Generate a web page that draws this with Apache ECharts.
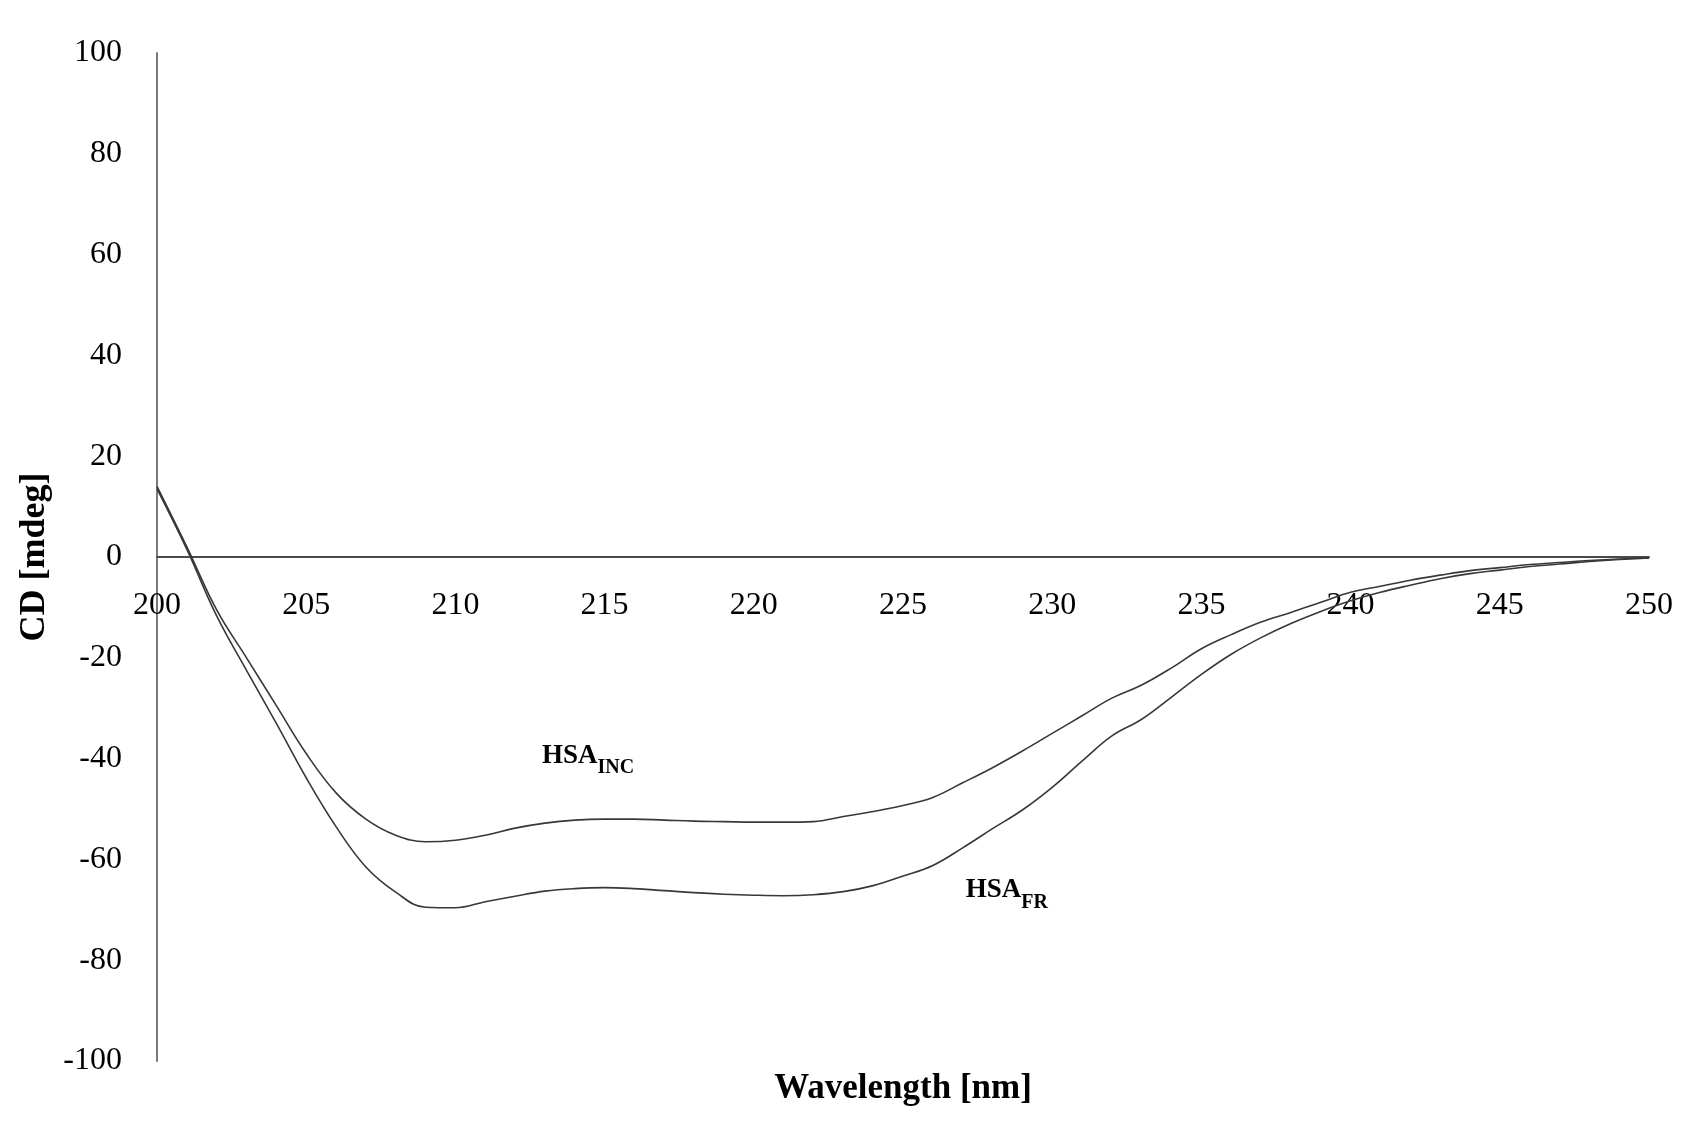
<!DOCTYPE html>
<html>
<head>
<meta charset="utf-8">
<script src="https://cdn.jsdelivr.net/npm/echarts@6/dist/echarts.min.js"></script>
<style>
  html, body { margin: 0; padding: 0; background: #fff; }
  #chart { width: 1708px; height: 1134px; }
</style>
</head>
<body>
<div id="chart"></div>
<script>
// wavelength in nm, one reading per nm
const wavelength = [
  200, 201, 202, 203, 204, 205, 206, 207, 208, 209,
  210, 211, 212, 213, 214, 215, 216, 217, 218, 219,
  220, 221, 222, 223, 224, 225, 226, 227, 228, 229,
  230, 231, 232, 233, 234, 235, 236, 237, 238, 239,
  240, 241, 242, 243, 244, 245, 246, 247, 248, 249, 250,
]
// CD [mdeg]
const hsaInc = [
  14, 2, -10.5, -20, -29.5, -39, -46.8, -52, -55.2, -56.5,
  -56.2, -55.2, -53.8, -52.8, -52.2, -52, -52, -52.2, -52.4, -52.5,
  -52.6, -52.6, -52.5, -51.5, -50.5, -49.3, -47.7, -44.8, -41.8, -38.5,
  -35, -31.5, -28, -25.4, -22, -18.2, -15.4, -12.9, -11, -9,
  -7, -5.8, -4.6, -3.6, -2.7, -2.1, -1.5, -1.1, -0.7, -0.4, -0.2,
]
const hsaFr = [
  13.5, 1.5, -11.7, -22.5, -33, -43.8, -53.5, -61.5, -66.5, -69.5,
  -69.6, -68.4, -67.3, -66.3, -65.8, -65.6, -65.8, -66.2, -66.6, -66.9,
  -67.1, -67.2, -67, -66.4, -65.2, -63.3, -61.2, -57.7, -53.9, -50.2,
  -45.7, -40.5, -35.5, -32.2, -27.8, -23.3, -19.3, -16, -13.2, -10.8,
  -8.7, -7, -5.6, -4.3, -3.3, -2.6, -1.9, -1.4, -0.9, -0.5, -0.2,
]
// where the curve names sit, [nm, mdeg]
const incLabelAt = [212.9, -40.3]
const frLabelAt = [227.1, -67]

const font = 'Liberation Serif'

const zip = (xs, ys) => xs.map((x, i) => [x, ys[i]])

const curveLabel = (at, main, sub) => ({
  symbol: 'circle',
  symbolSize: 0,
  itemStyle: { color: 'transparent' },
  data: [{ coord: at }],
  label: {
    show: true,
    position: 'right',
    distance: 0,
    formatter: '{a|' + main + '}{b|' + sub + '}',
    rich: {
      a: { fontFamily: font, fontSize: 27, fontWeight: 'bold', color: '#000', verticalAlign: 'top' },
      b: { fontFamily: font, fontSize: 20, fontWeight: 'bold', color: '#000', verticalAlign: 'top', padding: [16, 0, 0, 0] },
    },
  },
})

const chart = echarts.init(document.getElementById('chart'), null, { renderer: 'canvas' })
const option = {
  backgroundColor: '#fff',
  animation: false,
  grid: {
    left: 157,
    right: 59,
    top: 53,
    bottom: 73,
    containLabel: false,
    outerBoundsMode: 'none',
  },
  xAxis: {
    type: 'value',
    min: 200,
    max: 250,
    interval: 5,
    // the axis (line, labels, name) sits on y = 0, half way up the grid
    offset: -504,
    name: 'Wavelength [nm]',
    nameLocation: 'middle',
    nameGap: 514,
    nameTextStyle: { fontFamily: font, fontSize: 35, fontWeight: 'bold', color: '#000' },
    axisLine: { onZero: false, lineStyle: { color: '#4a4a4a', width: 2 } },
    axisTick: { show: false },
    splitLine: { show: false },
    axisLabel: { fontFamily: font, fontSize: 32, color: '#000', margin: 33 },
  },
  yAxis: {
    type: 'value',
    min: -100,
    max: 100,
    interval: 20,
    name: 'CD [mdeg]',
    nameLocation: 'middle',
    nameGap: 98,
    nameTextStyle: { fontFamily: font, fontSize: 36, fontWeight: 'bold', color: '#000' },
    axisLine: { show: true, onZero: false, lineStyle: { color: '#7a7a7a', width: 2 } },
    axisTick: { show: false },
    splitLine: { show: false },
    axisLabel: { fontFamily: font, fontSize: 32, color: '#000', margin: 35 },
  },
  series: [
    {
      name: 'HSA INC',
      type: 'line',
      data: zip(wavelength, hsaInc),
      smooth: 0.4,
      showSymbol: false,
      lineStyle: { color: '#383838', width: 1.6 },
      markPoint: curveLabel(incLabelAt, 'HSA', 'INC'),
    },
    {
      name: 'HSA FR',
      type: 'line',
      data: zip(wavelength, hsaFr),
      smooth: 0.4,
      showSymbol: false,
      lineStyle: { color: '#383838', width: 1.6 },
      markPoint: curveLabel(frLabelAt, 'HSA', 'FR'),
    },
  ],
}
chart.setOption(option)
</script>
</body>
</html>
